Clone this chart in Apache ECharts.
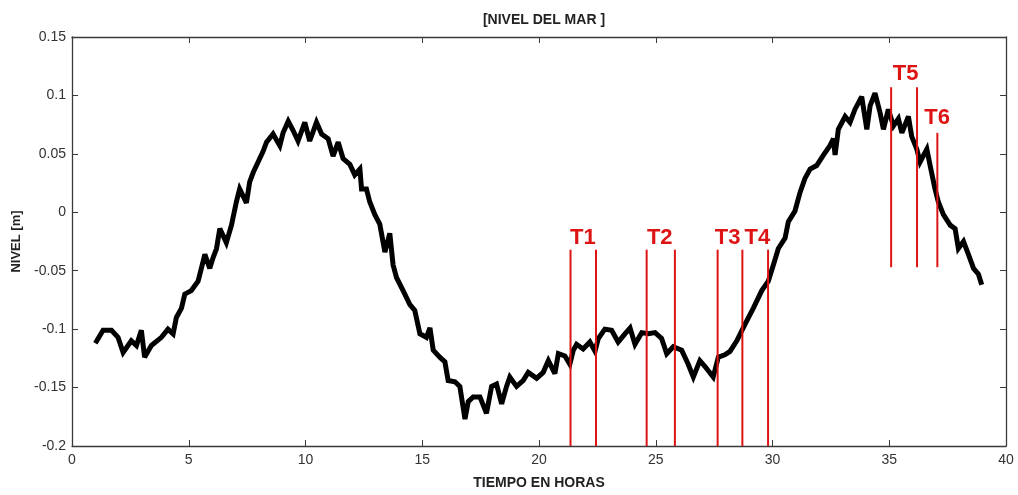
<!DOCTYPE html>
<html>
<head>
<meta charset="utf-8">
<script src="https://cdn.jsdelivr.net/npm/echarts@6/dist/echarts.min.js"></script>
<style>
  html, body { margin: 0; padding: 0; background: #fff; }
  #chart { width: 1018px; height: 495px; }
</style>
</head>
<body>
<div id="chart"></div>
<script>
// Sea level record (hours, metres)
const hours = [
  1.00, 1.05, 1.33, 1.69, 1.97, 2.19, 2.54, 2.76, 2.97, 3.11, 3.40, 3.83, 4.11, 4.33, 4.47,
  4.69, 4.83, 5.11, 5.40, 5.54, 5.69, 5.90, 6.04, 6.19, 6.33, 6.61, 6.83, 7.04, 7.18, 7.47,
  7.61, 7.76, 7.97, 8.18, 8.33, 8.61, 8.90, 9.04, 9.26, 9.47, 9.68, 9.97, 10.18, 10.47, 10.69,
  10.97, 11.18, 11.40, 11.61, 11.90, 12.11, 12.33, 12.40, 12.61, 12.75, 12.97, 13.18, 13.40, 13.61,
  13.75, 13.90, 14.18, 14.47, 14.68, 14.90, 15.18, 15.33, 15.47, 15.75, 15.97, 16.11, 16.40, 16.61,
  16.83, 16.97, 17.18, 17.47, 17.75, 17.97, 18.18, 18.40, 18.61, 18.75, 19.04, 19.32, 19.54, 19.90,
  20.18, 20.40, 20.68, 20.83, 21.11, 21.32, 21.47, 21.61, 21.89, 22.18, 22.40, 22.54, 22.82, 23.11, 23.39,
  23.68, 23.90, 24.11, 24.40, 24.68, 24.97, 25.25, 25.47, 25.75, 26.11, 26.39, 26.61, 26.89, 27.11,
  27.46, 27.68, 27.96, 28.18, 28.47, 28.82, 29.18, 29.54, 29.82, 30.04, 30.25, 30.54, 30.68, 30.96,
  31.18, 31.39, 31.61, 31.89, 32.18, 32.46, 32.61, 32.68, 32.82, 33.11, 33.32, 33.53, 33.82, 34.04,
  34.18, 34.39, 34.61, 34.75, 34.96, 35.18, 35.39, 35.54, 35.82, 35.96, 36.18, 36.32, 36.61, 36.75,
  36.96, 37.10, 37.32, 37.61, 37.82, 37.96, 38.18, 38.39, 38.61, 38.82, 38.96
];
const level = [
  -0.112, -0.111, -0.101, -0.101, -0.107, -0.120, -0.110, -0.114, -0.101, -0.124, -0.114, -0.107, -0.100, -0.104, -0.090,
  -0.082, -0.070, -0.067, -0.059, -0.048, -0.036, -0.048, -0.039, -0.031, -0.014, -0.026, -0.011, 0.009, 0.020, 0.008,
  0.026, 0.034, 0.043, 0.052, 0.060, 0.067, 0.057, 0.068, 0.078, 0.070, 0.061, 0.077, 0.061, 0.077, 0.067,
  0.063, 0.048, 0.060, 0.046, 0.041, 0.032, 0.037, 0.020, 0.020, 0.009, -0.002, -0.010, -0.034, -0.018,
  -0.045, -0.056, -0.067, -0.079, -0.084, -0.104, -0.107, -0.099, -0.118, -0.124, -0.128, -0.144, -0.145, -0.149,
  -0.177, -0.162, -0.158, -0.158, -0.172, -0.149, -0.147, -0.164, -0.149, -0.141, -0.149, -0.144, -0.137, -0.142,
  -0.137, -0.127, -0.138, -0.121, -0.123, -0.130, -0.118, -0.113, -0.117, -0.111, -0.119, -0.108, -0.100, -0.101, -0.111,
  -0.104, -0.099, -0.113, -0.103, -0.104, -0.103, -0.108, -0.121, -0.115, -0.118, -0.130, -0.141, -0.127, -0.132,
  -0.141, -0.124, -0.122, -0.119, -0.110, -0.096, -0.082, -0.067, -0.059, -0.045, -0.031, -0.022, -0.008, 0.001,
  0.017, 0.029, 0.037, 0.040, 0.049, 0.057, 0.063, 0.049, 0.071, 0.082, 0.077, 0.088, 0.099, 0.071,
  0.091, 0.102, 0.085, 0.071, 0.088, 0.074, 0.080, 0.068, 0.082, 0.065, 0.054, 0.043, 0.054, 0.040,
  0.020, 0.009, -0.002, -0.011, -0.014, -0.031, -0.025, -0.036, -0.048, -0.053, -0.062
];

// Vertical markers: hour, bottom, top
const markerHours = [21.35, 22.44, 24.61, 25.82, 27.65, 28.71, 29.81, 35.08, 36.19, 37.06];
const markerBottom = [-0.2, -0.2, -0.2, -0.2, -0.2, -0.2, -0.2, -0.047, -0.047, -0.047];
const markerTop = [-0.032, -0.032, -0.032, -0.032, -0.032, -0.032, -0.032, 0.107, 0.107, 0.068];

// Marker labels and where they sit
const markerNames = ['T1', 'T2', 'T3', 'T4', 'T5', 'T6'];
const markerNameX = [21.88, 25.17, 28.08, 29.35, 35.70, 37.05];
const markerNameY = [-0.022, -0.022, -0.022, -0.022, 0.1185, 0.081];

const xTicks = [0, 5, 10, 15, 20, 25, 30, 35, 40];
const yTicks = [-0.2, -0.15, -0.1, -0.05, 0, 0.05, 0.1, 0.15];

const chart = echarts.init(document.getElementById('chart'));
const FONT = 'Liberation Sans, Arial, sans-serif';
const axisCol = '#3a3a3a';
const red = '#dc1414';

const seriesData = hours.map((h, i) => [h, level[i]]);

const markerSeries = markerHours.map((h, i) => ({
  type: 'line',
  data: [[h, markerBottom[i]], [h, markerTop[i]]],
  symbol: 'none',
  silent: true,
  lineStyle: { color: red, width: 2 },
  z: 3
}));

const fmt = v => String(parseFloat(Number(v).toFixed(2)));

const baseX = {
  type: 'value',
  min: xTicks[0], max: xTicks[xTicks.length - 1], interval: 5,
  axisLine: { show: true, onZero: false, lineStyle: { color: axisCol, width: 1.3 } },
  axisTick: { show: true, inside: true, length: 6, lineStyle: { color: axisCol } },
  splitLine: { show: false }
};
const baseY = {
  type: 'value',
  min: yTicks[0], max: yTicks[yTicks.length - 1], interval: 0.05,
  axisLine: { show: true, onZero: false, lineStyle: { color: axisCol, width: 1.3 } },
  axisTick: { show: true, inside: true, length: 6, lineStyle: { color: axisCol } },
  splitLine: { show: false }
};

chart.setOption({
  animation: false,
  backgroundColor: '#fff',
  title: {
    text: '[NIVEL DEL MAR ]',
    left: 539, top: 8, textAlign: 'center',
    textStyle: { fontFamily: FONT, fontSize: 14, fontWeight: 'bold', color: '#222' }
  },
  grid: { left: 72, top: 37, right: 12, bottom: 45, containLabel: false },
  xAxis: [
    Object.assign({}, baseX, {
      position: 'bottom',
      name: 'TIEMPO EN HORAS', nameLocation: 'middle', nameGap: 30,
      nameTextStyle: { fontFamily: FONT, fontSize: 14, fontWeight: 'bold', color: '#222' },
      axisLabel: { fontFamily: FONT, fontSize: 14, color: '#333', margin: 7, formatter: fmt }
    }),
    Object.assign({}, baseX, { position: 'top', axisLabel: { show: false } })
  ],
  yAxis: [
    Object.assign({}, baseY, {
      position: 'left',
      name: 'NIVEL [m]', nameLocation: 'middle', nameGap: 46, nameRotate: 90,
      nameTextStyle: { fontFamily: FONT, fontSize: 13, fontWeight: 'bold', color: '#222' },
      axisLabel: { fontFamily: FONT, fontSize: 14, color: '#333', margin: 6, formatter: fmt }
    }),
    Object.assign({}, baseY, { position: 'right', axisLabel: { show: false } })
  ],
  series: [
    {
      type: 'line',
      data: seriesData,
      symbol: 'none',
      silent: true,
      lineStyle: { color: '#000', width: 5, join: 'miter', miterLimit: 3 },
      z: 2
    },
    ...markerSeries,
    {
      type: 'scatter',
      data: markerNames.map((n, i) => ({ value: [markerNameX[i], markerNameY[i]], name: n })),
      symbolSize: 0,
      silent: true,
      itemStyle: { opacity: 1 },
      label: {
        show: true, position: 'inside', formatter: p => p.name,
        fontFamily: FONT, fontSize: 22, fontWeight: 'bold', color: red,
        opacity: 1, textBorderWidth: 0
      },
      z: 4
    }
  ]
});
</script>
</body>
</html>
